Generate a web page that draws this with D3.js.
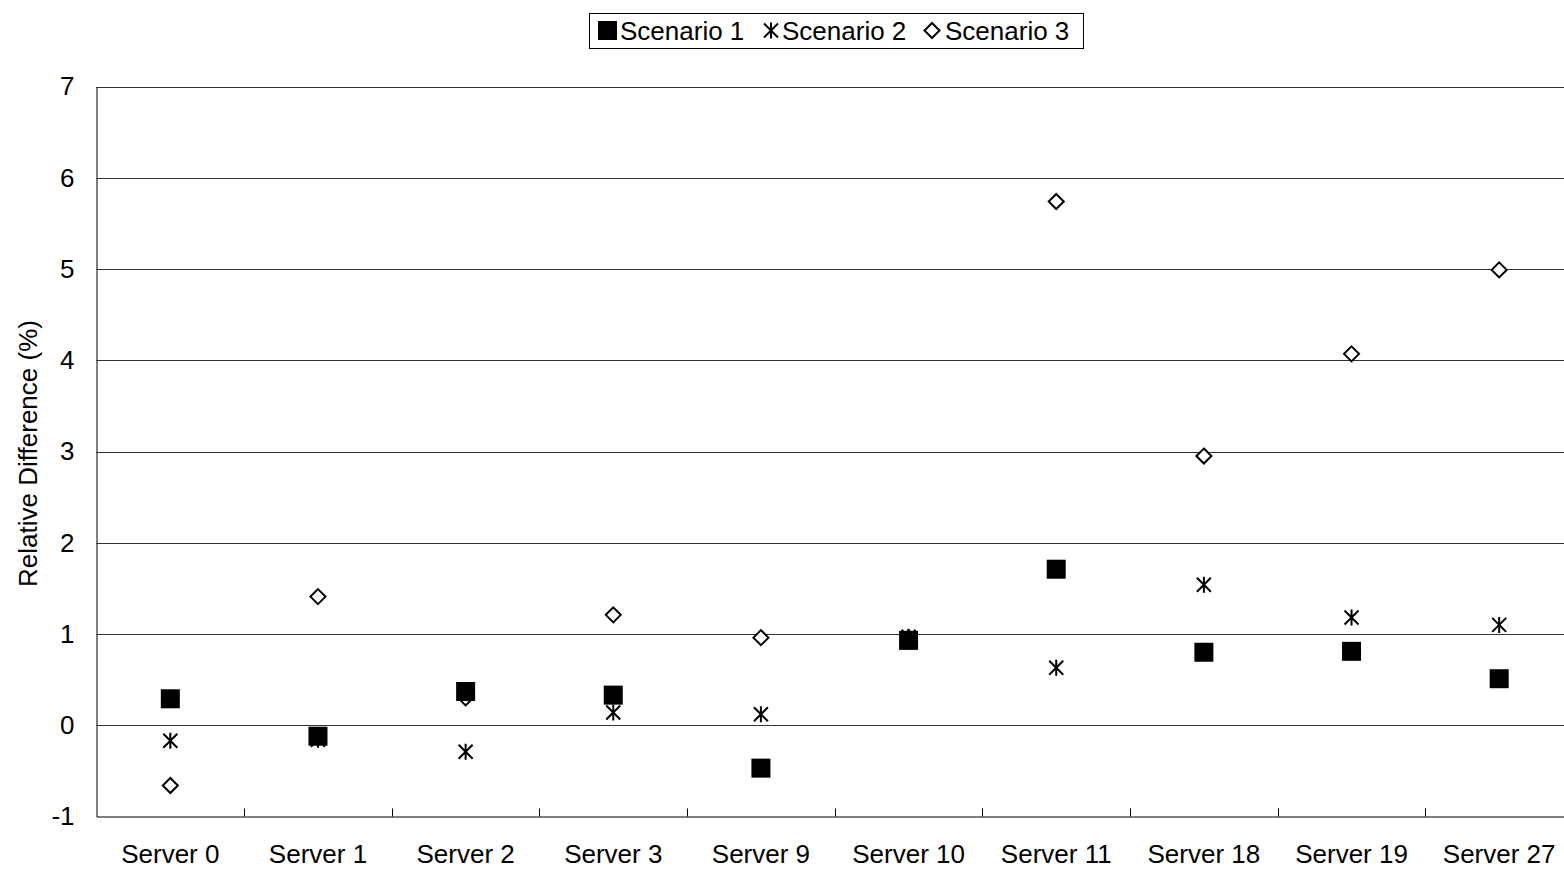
<!DOCTYPE html>
<html>
<head>
<meta charset="utf-8">
<script src="https://cdn.jsdelivr.net/npm/d3@7"></script>
<style>
  html, body { margin: 0; padding: 0; background: #fff; }
  svg { display: block; font-family: "Liberation Sans", Arial, sans-serif; }
</style>
</head>
<body>
<svg id="chart" width="1564" height="870"></svg>
<script>
// Servers along the x axis
const servers = ["Server 0", "Server 1", "Server 2", "Server 3", "Server 9",
                 "Server 10", "Server 11", "Server 18", "Server 19", "Server 27"];

// Relative difference (%) per scenario
const scenario1 = [0.29, -0.12, 0.37, 0.33, -0.47, 0.93, 1.71, 0.80, 0.81, 0.51];
const scenario2 = [-0.17, -0.16, -0.29, 0.14, 0.12, 0.97, 0.63, 1.54, 1.18, 1.10];
const scenario3 = [-0.66, 1.41, 0.30, 1.21, 0.96, 0.96, 5.74, 2.95, 4.07, 4.99];

const seriesNames = ["Scenario 1", "Scenario 2", "Scenario 3"];
const yTicks = [-1, 0, 1, 2, 3, 4, 5, 6, 7];

const FONT = 26;
const svg = d3.select("#chart");
const plotLeft = 96.5, plotRight = 1573, plotTop = 86.5, plotBottom = 816.5;

const x = d3.scaleBand().domain(servers).range([plotLeft, plotRight]).padding(0);
const y = d3.scaleLinear().domain([-1, 7]).range([plotBottom, plotTop]);

// Horizontal gridlines
svg.append("g")
  .selectAll("line")
  .data(yTicks.filter(d => d > -1))
  .join("line")
  .attr("x1", plotLeft).attr("x2", plotRight)
  .attr("y1", d => Math.round(y(d)) + 0.5).attr("y2", d => Math.round(y(d)) + 0.5)
  .attr("stroke", "#333").attr("stroke-width", 1);

// Y axis
const yAxis = svg.append("g")
  .attr("transform", `translate(${plotLeft},0)`)
  .call(d3.axisLeft(y).tickValues(yTicks).tickSize(0).tickPadding(22).tickFormat(d => String(d)));
yAxis.select(".domain").attr("stroke", "#000");
yAxis.selectAll(".tick text").attr("font-size", FONT).attr("fill", "#000")
  .attr("font-family", "Liberation Sans, Arial, sans-serif");

// X axis (ticks point up into the plot)
const xAxis = svg.append("g")
  .attr("transform", `translate(0,${plotBottom})`)
  .call(d3.axisBottom(x).tickSize(0).tickPadding(28));
xAxis.select(".domain").attr("stroke", "#000");
xAxis.selectAll(".tick text").attr("font-size", FONT).attr("fill", "#000")
  .attr("font-family", "Liberation Sans, Arial, sans-serif");
svg.append("g")
  .selectAll("line")
  .data(servers.slice(1))
  .join("line")
  .attr("x1", d => Math.round(x(d)) + 0.5).attr("x2", d => Math.round(x(d)) + 0.5)
  .attr("y1", plotBottom).attr("y2", plotBottom - 8)
  .attr("stroke", "#000");

// Y axis title
svg.append("text")
  .attr("transform", `translate(37,${(plotTop + plotBottom) / 2 + 2}) rotate(-90)`)
  .attr("text-anchor", "middle")
  .attr("font-size", FONT)
  .text("Relative Difference (%)");

// Marker shapes
function drawSquare(g, cx, cy) {
  g.append("rect").attr("x", cx - 9.5).attr("y", cy - 9.5).attr("width", 19).attr("height", 19)
    .attr("fill", "#000");
}
function drawStar(g, cx, cy) {
  const h = 8, w = 7;
  g.append("path")
    .attr("d", `M${cx},${cy - h}V${cy + h}M${cx - w},${cy - h + 1}L${cx + w},${cy + h - 1}M${cx - w},${cy + h - 1}L${cx + w},${cy - h + 1}`)
    .attr("stroke", "#000").attr("stroke-width", 2).attr("fill", "none");
}
function drawDiamond(g, cx, cy) {
  const r = 7.5;
  g.append("path")
    .attr("d", `M${cx},${cy - r}L${cx + r},${cy}L${cx},${cy + r}L${cx - r},${cy}Z`)
    .attr("stroke", "#000").attr("stroke-width", 2).attr("fill", "#fff");
}

const cxOf = s => x(s) + x.bandwidth() / 2;
const marks = svg.append("g");

// Draw in reverse order so Scenario 1 sits on top
scenario3.forEach((v, i) => drawDiamond(marks, cxOf(servers[i]), y(v)));
scenario2.forEach((v, i) => drawStar(marks, cxOf(servers[i]), y(v)));
scenario1.forEach((v, i) => drawSquare(marks, cxOf(servers[i]), y(v)));

// Legend
const legend = svg.append("g");
legend.append("rect").attr("x", 589.5).attr("y", 13.5).attr("width", 494).attr("height", 35)
  .attr("fill", "#fff").attr("stroke", "#000").attr("stroke-width", 1);
const legendItems = [
  { name: seriesNames[0], mx: 607.5, tx: 620, draw: drawSquare },
  { name: seriesNames[1], mx: 771, tx: 782, draw: drawStar },
  { name: seriesNames[2], mx: 932, tx: 945, draw: drawDiamond }
];
legendItems.forEach(it => {
  it.draw(legend, it.mx, 30.5);
  legend.append("text").attr("x", it.tx).attr("y", 40).attr("font-size", FONT).text(it.name);
});
</script>
</body>
</html>
